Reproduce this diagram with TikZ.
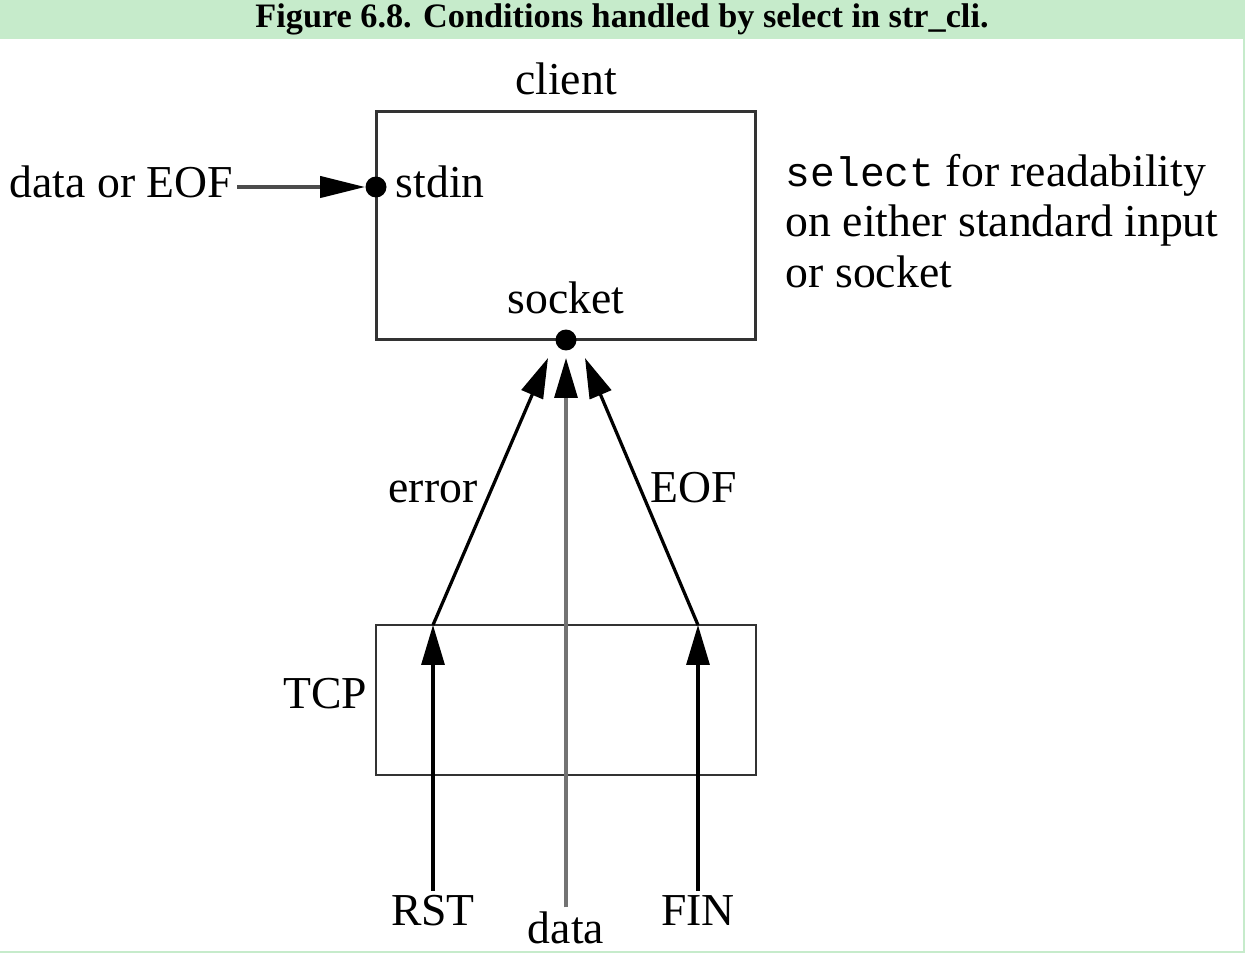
\documentclass[tikz,border=0pt]{standalone}
\usepackage{fontspec}
\setmainfont{Liberation Serif}
\setmonofont{Liberation Mono}
\usetikzlibrary{arrows.meta,positioning}
\definecolor{bargreen}{RGB}{198,235,203}
\tikzset{labeltext/.style={font=\fontsize{26}{28.5}\selectfont,inner sep=2pt,anchor=base},
    smalldot/.style={circle,fill,inner sep=0,minimum size=0.42cm},
    hostbox/.style={draw=black!80,line width=0.06cm,inner sep=0},
    layerbox/.style={draw=black!80,line width=0.05cm,inner sep=0},
    bigtip/.style={-{Triangle[length=0.8cm,width=0.46cm,color=black]}},
    eventline/.style={bigtip,line width=0.065cm},
    dataline/.style={bigtip,draw=black!55,line width=0.065cm}
}

\begin{document}
\begin{tikzpicture}[x=0.02cm,y=-0.02cm]
\useasboundingbox (0,0) rectangle (1245,953);

%% title bar and frame
\fill [bargreen] (0,0) rectangle (1245,39);
\fill [bargreen] (1243,39) rectangle (1245,953);
\fill [bargreen] (0,951) rectangle (1245,953);
\node (title) at (622,28) [anchor=base,inner sep=0,font=\bfseries\fontsize{19.5}{22}\selectfont] {Figure 6.8. Conditions handled by select in str\_cli.};

%% boxes
\node (client) at (566,225.5) [hostbox,minimum width=7.6cm,minimum height=4.58cm] {};
\node (tcp) at (566,700) [layerbox,minimum width=7.6cm,minimum height=3cm] {};

%% texts
\node (clientlabel) at (566,95) [labeltext] {client};
\node (feed) at (6,197) [labeltext,anchor=base west] {data or EOF};
\node (stdinlabel) at (392,197) [labeltext,anchor=base west] {stdin};
\node (socketlabel) at (566,313) [labeltext] {socket};
% base of a multi-line node is its last line
\node (selectnote) at (782,287) [labeltext,anchor=base west,align=left]
    {{\ttfamily\fontsize{23.5}{28.5}\selectfont select} for readability\\on either standard input\\or socket};
\node (errorlabel) at (433,502) [labeltext] {error};
\node (eoflabel) at (694,502) [labeltext] {EOF};
\node (tcplabel) at (325,708) [labeltext] {TCP};
\node (rst) at (433,925) [labeltext] {RST};
\node (datalabel) at (566,943) [labeltext] {data};
\node (fin) at (698,925) [labeltext] {FIN};

%% descriptors
\node (stdin) at (376,187) [smalldot] {};
\node (socket) at (566,340) [smalldot] {};

\coordinate (rstjoin) at (433,625);
\coordinate (finjoin) at (698,625);
\coordinate (errtip) at (548,358);
\coordinate (datatip) at (566,358);
\coordinate (eoftip) at (585,358);

%% conditions
\draw [-{Triangle[length=0.9cm,width=0.42cm,color=black]},line width=0.08cm,black!70] (feed.east |- stdin) -- (stdin);

\draw [eventline] (rst) -- (rstjoin);
\draw [eventline] (fin) -- (finjoin);
\draw [eventline] (rstjoin) -- (errtip);
\draw [eventline] (finjoin) -- (eoftip);
\draw [dataline] (datalabel) -- (datatip);

\end{tikzpicture}
\end{document}
